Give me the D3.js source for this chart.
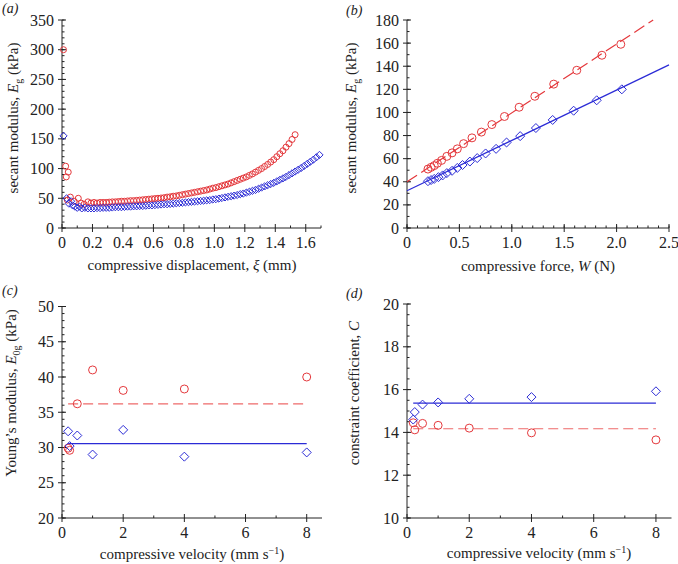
<!DOCTYPE html>
<html><head><meta charset="utf-8">
<script src="https://cdn.jsdelivr.net/npm/d3@7"></script>
<style>body{margin:0;background:#fff}svg{display:block}</style>
</head><body>
<script>
// ---------- DATA ----------
// (a) secant modulus vs displacement
const aRedX = [0.01,0.024,0.028,0.041,0.035,0.055,0.08,0.107,0.125,0.145,
  0.17,0.19,0.21,0.23,0.25,0.27,0.29,0.31,0.33,0.35,0.37,0.39,0.41,0.43,0.45,0.47,0.49,0.51,0.53,0.55,
  0.57,0.59,0.61,0.63,0.65,0.67,0.69,0.71,0.73,0.75,0.77,0.79,0.81,0.83,0.85,0.87,0.89,0.91,0.93,0.95,
  0.97,0.99,1.01,1.03,1.05,1.07,1.09,1.11,1.13,1.15,1.17,1.19,1.21,1.23,1.25,1.27,1.29,1.31,1.33,1.35,
  1.37,1.39,1.41,1.43,1.45,1.47,1.49,1.51,1.53];
const aRedY = [300,104,86,94,47,52,45,50,42,40,
  44,42,43,42,43,43,43,43.5,44,44,44.5,45,45,45.5,46,46,46.5,47,47.5,48,
  48.5,49,49.5,50,50.5,51,52,52.5,53.5,54,55,56,57,58,59,60,61,62,63,64,
  65.5,67,68,69.5,71,72.5,74,76,78,80,82,84,86,88.5,91,94,97,100,103.5,107,
  111,115,120,125,130,136,142,149,157];
const aBlueX = [0.01,0.03,0.045,0.06,0.07,0.085,0.1,0.115,0.13,
  0.15,0.17,0.19,0.21,0.23,0.25,0.27,0.29,0.31,0.33,0.35,0.37,0.39,0.41,0.43,0.45,0.47,0.49,0.51,0.53,
  0.55,0.57,0.59,0.61,0.63,0.65,0.67,0.69,0.71,0.73,0.75,0.77,0.79,0.81,0.83,0.85,0.87,0.89,0.91,0.93,
  0.95,0.97,0.99,1.01,1.03,1.05,1.07,1.09,1.11,1.13,1.15,1.17,1.19,1.21,1.23,1.25,1.27,1.29,1.31,1.33,
  1.35,1.37,1.39,1.41,1.43,1.45,1.47,1.49,1.51,1.53,1.55,1.57,1.59,1.61,1.63,1.65,1.67,1.69];
const aBlueY = [155,50,41,45,38,36,34,36,33,
  34,33,33,33,33.5,33.5,34,34,34,34.5,35,35,35,35.5,36,36,36.5,36.5,37,37,
  37.5,38,38,38.5,39,39.5,40,40,40.5,41,41.5,42,42.5,43,43.5,44,44.5,45,45.5,46,
  46.5,47,48,48.5,49.5,50.5,51.5,52.5,53.5,54.5,55.5,57,58,59.5,61,62.5,64,66,68,70,
  72,74,76,78.5,81,83.5,86,89,92,95,98,101,104.5,108,111.5,115,119,123];

// (b) secant modulus vs force
const bRedX = [0.2,0.23,0.26,0.29,0.33,0.38,0.43,0.48,0.54,0.62,0.71,0.81,0.93,1.07,1.22,1.4,1.62,1.86,2.04];
const bRedY = [51,52.5,54,56,58.5,62,65,68.5,73,78,83,89.5,96.5,104.5,114,124.5,136.5,149.5,159];
const bBlueX = [0.2,0.23,0.26,0.3,0.34,0.38,0.43,0.48,0.53,0.6,0.67,0.75,0.85,0.95,1.08,1.23,1.39,1.59,1.81,2.05];
const bBlueY = [40.5,41.5,42.5,44,45.5,47.5,49.5,52,54.5,57.5,60.5,64.5,68.5,74,79.5,86.5,93.5,101.5,110.5,120];
const bRedFit = [40, 59.6];   // intercept, slope
const bBlueFit = [32.2, 43.6];

// (c) Young's modulus vs velocity
const velocity = [0.2,0.25,0.5,1,2,4,8];
const cRedY = [29.9,29.6,36.2,41,38.1,38.3,40];
const cBlueY = [32.3,30.2,31.7,29,32.5,28.7,29.3];
const cRedMean = 36.2, cBlueMean = 30.55;

// (d) constraint coefficient vs velocity
const dRedY = [14.45,14.12,14.42,14.33,14.2,13.98,13.65];
const dBlueY = [14.6,14.95,15.3,15.4,15.57,15.65,15.92];
const dRedMean = 14.17, dBlueMean = 15.37;

// ---------- DRAW ----------
const RED = "#e4383c", BLUE = "#2b2bd6", RED_L = "#ee6a6a";
const FONT = "'Liberation Serif','Times New Roman',serif";
const svg = d3.select("body").append("svg").attr("width",678).attr("height",564)
  .style("font-family",FONT);

function panel(o){
  const x = d3.scaleLinear().domain(o.xd).range([o.x0,o.x1]);
  const y = d3.scaleLinear().domain(o.yd).range([o.y1,o.y0]);
  const g = svg.append("g");
  o.xMinor.forEach(v=>g.append("line").attr("x1",x(v)).attr("x2",x(v)).attr("y1",o.y1).attr("y2",o.y1-2.5).attr("stroke","#222"));
  o.yMinor.forEach(v=>g.append("line").attr("x1",o.x0).attr("x2",o.x0+2.5).attr("y1",y(v)).attr("y2",y(v)).attr("stroke","#222"));
  o.xMajor.forEach(v=>g.append("line").attr("x1",x(v)).attr("x2",x(v)).attr("y1",o.y1+4).attr("y2",o.y1-4).attr("stroke","#222"));
  o.yMajor.forEach(v=>g.append("line").attr("x1",o.x0-4).attr("x2",o.x0+4).attr("y1",y(v)).attr("y2",y(v)).attr("stroke","#222"));
  g.append("line").attr("x1",o.x0).attr("x2",o.x1).attr("y1",o.y1).attr("y2",o.y1).attr("stroke","#222");
  g.append("line").attr("x1",o.x0).attr("x2",o.x0).attr("y1",o.y0).attr("y2",o.y1).attr("stroke","#222");
  o.xMajor.forEach(v=>g.append("text").attr("x",x(v)).attr("y",o.y1+20).attr("text-anchor","middle")
    .attr("font-size",16).attr("fill","#222").text(o.xf(v)));
  o.yMajor.forEach(v=>g.append("text").attr("x",o.x0-8).attr("y",y(v)+5.5).attr("text-anchor","end")
    .attr("font-size",16).attr("fill","#222").text(o.yf?o.yf(v):v));
  return {x,y,g};
}
function circles(p,xs,ys,r){
  p.g.selectAll(null).data(xs.map((v,i)=>[v,ys[i]])).enter().append("circle")
    .attr("cx",d=>p.x(d[0])).attr("cy",d=>p.y(d[1])).attr("r",r)
    .attr("fill","none").attr("stroke",RED).attr("stroke-width",1);
}
function diamonds(p,xs,ys,s){
  p.g.selectAll(null).data(xs.map((v,i)=>[v,ys[i]])).enter().append("path")
    .attr("d",d=>{const cx=p.x(d[0]),cy=p.y(d[1]);return `M${cx},${cy-s}L${cx+s},${cy}L${cx},${cy+s}L${cx-s},${cy}Z`;})
    .attr("fill","none").attr("stroke",BLUE).attr("stroke-width",1);
}
function hline(p,x1,x2,yv,color,dash){
  p.g.append("line").attr("x1",p.x(x1)).attr("x2",p.x(x2)).attr("y1",p.y(yv)).attr("y2",p.y(yv))
    .attr("stroke",color).attr("stroke-width",1.2).attr("stroke-dasharray",dash||null);
}
function text(x,y,parts,opts={}){
  const t = svg.append("text").attr("x",x).attr("y",y).attr("font-size",opts.size||15).attr("fill","#222")
    .attr("text-anchor",opts.anchor||"middle");
  if(opts.rotate) t.attr("transform",`rotate(-90,${x},${y})`);
  parts.forEach(p=>{
    const s=t.append("tspan").text(p.t);
    if(p.i) s.attr("font-style","italic");
    if(p.dy) s.attr("dy",p.dy);
    if(p.fs) s.attr("font-size",p.fs);
  });
  return t;
}
const rng=(a,b,s)=>d3.range(Math.round((b-a)/s)+1).map(i=>+(a+i*s).toFixed(4));

const pa = panel({x0:62,x1:321,y0:20,y1:228,xd:[0,1.7],yd:[0,350],
  xMajor:rng(0,1.6,0.2),xMinor:rng(0.1,1.7,0.2),yMajor:rng(0,350,50),yMinor:rng(0,350,10),
  xf:v=>v===0?"0":v.toFixed(1)});
circles(pa,aRedX,aRedY,3);
diamonds(pa,aBlueX,aBlueY,3.6);

const pb = panel({x0:407,x1:669,y0:20,y1:228,xd:[0,2.5],yd:[0,180],
  xMajor:rng(0,2.5,0.5),xMinor:rng(0,2.5,0.1),yMajor:rng(0,180,20),yMinor:rng(0,180,10),
  xf:v=>v===0?"0":v.toFixed(1)});
{
  const xEnd=(180-bRedFit[0])/bRedFit[1];
  pb.g.append("line").attr("x1",pb.x(0)).attr("y1",pb.y(bRedFit[0])).attr("x2",pb.x(xEnd)).attr("y2",pb.y(180))
    .attr("stroke",RED).attr("stroke-width",1.2).attr("stroke-dasharray","12,5");
  pb.g.append("line").attr("x1",pb.x(0)).attr("y1",pb.y(bBlueFit[0])).attr("x2",pb.x(2.5)).attr("y2",pb.y(bBlueFit[0]+2.5*bBlueFit[1]))
    .attr("stroke",BLUE).attr("stroke-width",1.2);
}
circles(pb,bRedX,bRedY,4);
diamonds(pb,bBlueX,bBlueY,4.5);

const pc = panel({x0:62,x1:322,y0:306.5,y1:518,xd:[0,8.5],yd:[20,50],
  xMajor:[0,2,4,6,8],xMinor:[1,3,5,7],yMajor:rng(20,50,5),yMinor:rng(20,50,1),
  xf:v=>String(v)});
hline(pc,0.2,8,cRedMean,RED_L,"10,5");
hline(pc,0.2,8,cBlueMean,BLUE);
circles(pc,velocity,cRedY,4);
diamonds(pc,velocity,cBlueY,4.5);

const pd = panel({x0:407,x1:671.5,y0:304,y1:518,xd:[0,8.5],yd:[10,20],
  xMajor:[0,2,4,6,8],xMinor:[1,3,5,7],yMajor:rng(10,20,2),yMinor:rng(10,20,0.5),
  xf:v=>String(v)});
hline(pd,0.2,8,dRedMean,RED_L,"10,5");
hline(pd,0.2,8,dBlueMean,BLUE);
circles(pd,velocity,dRedY,4);
diamonds(pd,velocity,dBlueY,4.5);

text(2,13,[{t:"(a)",i:1}],{anchor:"start",size:14});
text(346,15,[{t:"(b)",i:1}],{anchor:"start",size:14});
text(2,295,[{t:"(c)",i:1}],{anchor:"start",size:14});
text(346,298,[{t:"(d)",i:1}],{anchor:"start",size:14});

text(192,270,[{t:"compressive displacement, "},{t:"ξ",i:1},{t:" (mm)"}]);
text(538,271,[{t:"compressive force, "},{t:"W",i:1},{t:" (N)"}]);
text(192,559,[{t:"compressive velocity (mm s"},{t:"−1",fs:10,dy:-5},{t:")",dy:5}]);
text(539,558,[{t:"compressive velocity (mm s"},{t:"−1",fs:10,dy:-5},{t:")",dy:5}]);
text(18,118,[{t:"secant modulus, "},{t:"E",i:1},{t:"g",fs:10,dy:4},{t:" (kPa)",dy:-4}],{rotate:1});
text(356,118,[{t:"secant modulus, "},{t:"E",i:1},{t:"g",fs:10,dy:4},{t:" (kPa)",dy:-4}],{rotate:1});
text(16,393,[{t:"Young’s modulus, "},{t:"E",i:1},{t:"0g",fs:10,dy:4},{t:" (kPa)",dy:-4}],{rotate:1});
text(359,393,[{t:"constraint coefficient, "},{t:"C",i:1}],{rotate:1});
</script>
</body></html>
